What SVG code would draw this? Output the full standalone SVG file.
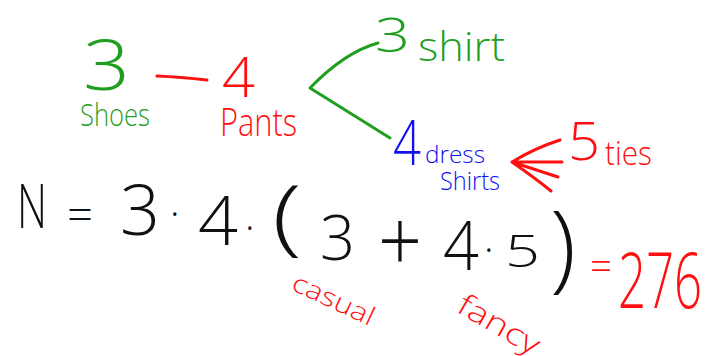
<svg xmlns="http://www.w3.org/2000/svg" width="711" height="356" viewBox="0 0 711 356">
<style>
text{font-family:"Open Sans","Liberation Sans",Arial,sans-serif;font-weight:300;}
.g{fill:#1f9e1f}
.r{fill:#ff1010}
.b{fill:#1010f0}
.k{fill:#111}
.ln{fill:none;stroke-width:3;stroke-linecap:round;stroke-linejoin:round}
</style>
<rect width="711" height="356" fill="#fff"/>
<g id="connectors" class="ln">
<path d="M157,76 Q180,77 207,80" stroke="#ff1010"/>
<path d="M378,43 Q345,52 310,88 Q345,110 390,138" stroke="#1f9e1f"/>
<path d="M512,162 Q535,148 560,140 M512,162 L562,162 M512,162 L558,177 M512,162 Q535,178 551,191" stroke="#ff1010"/>
</g>
<g id="shoes">
<text class="g" x="83" y="90" font-size="70" textLength="47" lengthAdjust="spacingAndGlyphs">3</text>
<text class="g" x="80" y="126" font-size="32" textLength="70" lengthAdjust="spacingAndGlyphs">Shoes</text>
</g>
<g id="pants">
<text class="r" x="222" y="97" font-size="56" textLength="33" lengthAdjust="spacingAndGlyphs">4</text>
<text class="r" x="220" y="136" font-size="38" textLength="77" lengthAdjust="spacingAndGlyphs">Pants</text>
</g>
<g id="shirt">
<text class="g" x="375" y="52" font-size="48" textLength="35" lengthAdjust="spacingAndGlyphs">3</text>
<text class="g" x="418" y="61" font-size="40" textLength="87" lengthAdjust="spacingAndGlyphs">shirt</text>
</g>
<g id="dress-shirts">
<text class="b" x="393" y="165" font-size="62" textLength="28" lengthAdjust="spacingAndGlyphs">4</text>
<text class="b" x="425" y="163" font-size="24" textLength="60" lengthAdjust="spacingAndGlyphs">dress</text>
<text class="b" x="440" y="190" font-size="25" textLength="60" lengthAdjust="spacingAndGlyphs">Shirts</text>
</g>
<g id="ties">
<text class="r" x="568" y="160" font-size="54" textLength="32" lengthAdjust="spacingAndGlyphs">5</text>
<text class="r" x="605" y="165" font-size="33" textLength="47" lengthAdjust="spacingAndGlyphs">ties</text>
</g>
<g id="formula">
<text class="k" x="17" y="228" font-size="61" textLength="30" lengthAdjust="spacingAndGlyphs">N</text>
<text class="k" x="67" y="231" font-size="46" textLength="26" lengthAdjust="spacingAndGlyphs">=</text>
<text class="k" x="120" y="235" font-size="70" textLength="40" lengthAdjust="spacingAndGlyphs">3</text>
<text class="k" x="170" y="228" font-size="40">·</text>
<text class="k" x="198" y="245" font-size="68" textLength="40" lengthAdjust="spacingAndGlyphs">4</text>
<text class="k" x="245" y="242" font-size="40">·</text>
<text class="k" x="272" y="245" font-size="83" textLength="30" lengthAdjust="spacingAndGlyphs">(</text>
<text class="k" x="320" y="260" font-size="62" textLength="35" lengthAdjust="spacingAndGlyphs">3</text>
<text class="k" x="378" y="272" font-size="86" textLength="44" lengthAdjust="spacingAndGlyphs">+</text>
<text class="k" x="443" y="270" font-size="68" textLength="36" lengthAdjust="spacingAndGlyphs">4</text>
<text class="k" x="484" y="264" font-size="40">·</text>
<text class="k" x="505" y="267" font-size="44" textLength="35" lengthAdjust="spacingAndGlyphs">5</text>
<text class="k" x="550" y="280" font-size="95" textLength="26" lengthAdjust="spacingAndGlyphs">)</text>
<text class="r" x="590" y="280" font-size="40" textLength="22" lengthAdjust="spacingAndGlyphs">=</text>
<text class="r" font-size="78" transform="translate(618 308) scale(0.63 1)">276</text>
</g>
<g id="casual">
<text class="r" x="290" y="289" font-size="26" textLength="88" lengthAdjust="spacingAndGlyphs" transform="rotate(25 290 289)">casual</text>
</g>
<g id="fancy">
<text class="r" x="455" y="311" font-size="30" textLength="90" lengthAdjust="spacingAndGlyphs" transform="rotate(30 455 311)">fancy</text>
</g>
</svg>
